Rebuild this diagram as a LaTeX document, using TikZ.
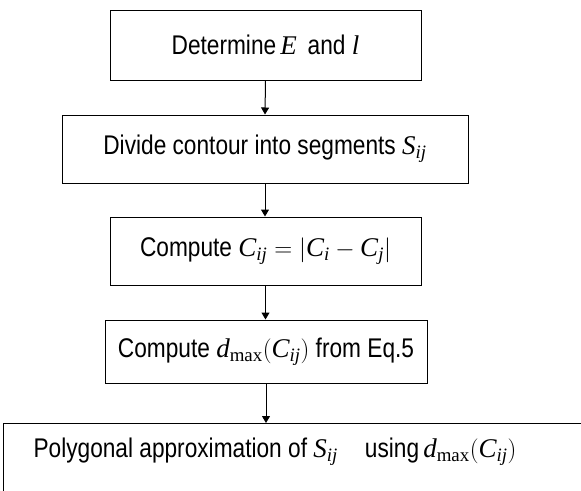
\documentclass[tikz,border=0pt]{standalone}
\usepackage{fontspec}
\setmainfont{Liberation Serif}
\setsansfont{Liberation Sans}[FakeStretch=0.84]
\usetikzlibrary{arrows.meta}
\tikzset{
  stepbox/.style={draw, line width=1pt, rectangle, inner sep=0pt,
    font=\sffamily\fontsize{27}{31}\selectfont},
  flowtext/.style={inner sep=0pt, font=\sffamily\fontsize{27}{31}\selectfont},
  flowarrow/.style={line width=1pt, -{Triangle[length=7pt,width=8pt]}}
}
\begin{document}
\begin{tikzpicture}[x=1pt,y=-1pt]
\useasboundingbox (0,0) rectangle (581,490);
\clip (0,0) rectangle (581,490);
\node[stepbox, minimum width=311pt, minimum height=70pt] (b1) at (265.5,45)
  {Determine$\,\mathit{E}$\, and $\mathit{l}$};
\node[stepbox, minimum width=406pt, minimum height=68pt] (b2) at (265,149)
  {Divide contour into segments $\mathit{S}_{\mathit{ij}}$};
\node[stepbox, minimum width=311pt, minimum height=68pt] (b3) at (265.5,251)
  {Compute $\mathit{C}_{\mathit{ij}}=\bigl|\mathit{C}_{\mathit{i}}-\mathit{C}_{\mathit{j}}\bigr|$};
\node[stepbox, minimum width=322pt, minimum height=63pt] (b4) at (266,351.5)
  {Compute $\mathit{d}_{\mathrm{max}}(\mathit{C}_{\mathit{ij}})$ from Eq.5};
\node[stepbox, minimum width=620pt, minimum height=90pt, anchor=north west] (b5) at (3,423) {};
\node[flowtext] (t5) at (275,452)
  {Polygonal approximation of $\mathit{S}_{\mathit{ij}}$\quad using$\,\mathit{d}_{\mathrm{max}}(\mathit{C}_{\mathit{ij}})$};
\draw[flowarrow] (b1.south) -- (b2.north);
\draw[flowarrow] (b2.south) -- (b2.south |- b3.north);
\draw[flowarrow] (b3.south) -- (b3.south |- b4.north);
\draw[flowarrow] (b4.south) -- (b4.south |- b5.north);
\end{tikzpicture}
\end{document}
